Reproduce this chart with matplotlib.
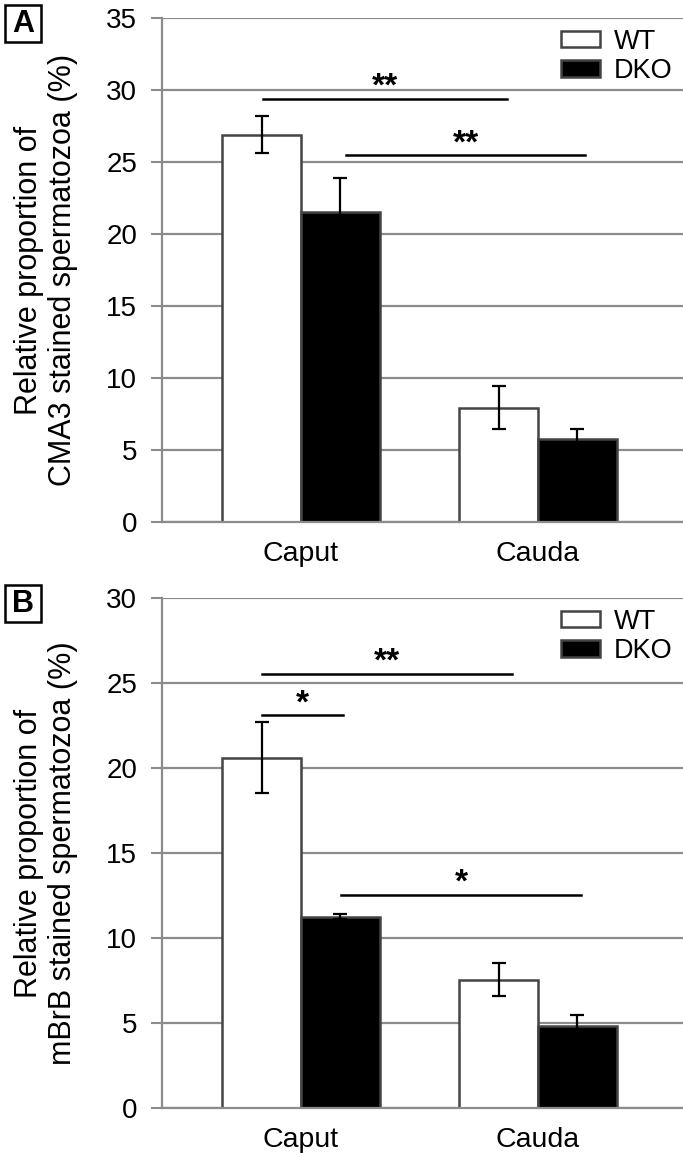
import numpy as np
import matplotlib.pyplot as plt
from matplotlib.patches import Rectangle

plt.rcParams['font.family'] = ['Liberation Sans', 'DejaVu Sans']

categories = ['Caput', 'Cauda']
groups = ['WT', 'DKO']

# panel A: CMA3
cma3_wt = [26.9, 7.95]
cma3_wt_err = [1.3, 1.5]
cma3_dko = [21.5, 5.75]
cma3_dko_err = [2.4, 0.7]
cma3_sig = [(-0.16, 0.87, 29.4, '**'), (0.19, 1.20, 25.5, '**')]

# panel B: mBrB
mbrb_wt = [20.6, 7.55]
mbrb_wt_err = [2.1, 0.95]
mbrb_dko = [11.25, 4.8]
mbrb_dko_err = [0.15, 0.7]
mbrb_sig = [(-0.165, 0.89, 25.55, '**'), (-0.165, 0.177, 23.1, '*'), (0.17, 1.18, 12.55, '*')]

grid_c = '#8c8c8c'
edge_c = '#444444'
fs = 20

fig = plt.figure(figsize=(6.83, 11.57), dpi=100)


def panel(ax, wt, wt_err, dko, dko_err, sig, ymax, ylabel):
    x = np.arange(len(categories))
    w = 0.333
    ax.set_axisbelow(True)
    ax.yaxis.grid(True, color=grid_c, lw=1.6)
    ax.bar(x - w / 2, wt, w, color='white', edgecolor=edge_c, lw=1.8, label=groups[0], zorder=2)
    ax.bar(x + w / 2, dko, w, color='black', edgecolor=edge_c, lw=1.8, label=groups[1], zorder=2)
    ax.errorbar(x - w / 2, wt, yerr=wt_err, fmt='none', ecolor='black', elinewidth=1.6,
                capsize=5, capthick=1.6, zorder=3)
    ax.errorbar(x + w / 2, dko, yerr=dko_err, fmt='none', ecolor='black', elinewidth=1.6,
                capsize=5, capthick=1.6, zorder=3)
    for x0, x1, y, s in sig:
        ax.plot([x0, x1], [y, y], color='black', lw=1.8, zorder=3)
        ax.annotate(s, ((x0 + x1) / 2, y), xytext=(0, 2), textcoords='offset points',
                    ha='center', va='baseline', fontsize=24, fontweight='bold')
    ax.set_xlim(-0.5865, 1.612)
    ax.set_ylim(0, ymax)
    ax.set_yticks(np.arange(0, ymax + 1, 5))
    ax.set_xticks(x)
    ax.set_xticklabels(categories)
    ax.tick_params(axis='y', labelsize=fs, color=grid_c, length=8, width=1.5, pad=10)
    ax.tick_params(axis='x', labelsize=20.5, length=0, pad=14)
    for sp in ['top', 'right']:
        ax.spines[sp].set_visible(False)
    for sp in ['left', 'bottom']:
        ax.spines[sp].set_color(grid_c)
        ax.spines[sp].set_linewidth(1.6)
    ax.set_ylabel(ylabel, fontsize=22, linespacing=1.18, va='center')
    ax.yaxis.set_label_coords(-0.222, 0.5)
    ax.legend(loc='upper right', bbox_to_anchor=(1.0, 1.0), frameon=False, fontsize=19.5,
              handlelength=1.45, handleheight=0.55, handletextpad=0.5, labelspacing=0.12,
              borderaxespad=0.0)


def letter_box(letter, top_px):
    fw, fh = 683, 1157
    x0, size_w, size_h = 5, 36, 37
    fig.patches.append(Rectangle((x0 / fw, 1 - (top_px + size_h) / fh), size_w / fw, size_h / fh,
                                 transform=fig.transFigure, fc='white', ec='black', lw=1.8))
    fig.text((x0 + size_w / 2) / fw, 1 - (top_px + size_h / 2) / fh, letter, fontsize=22,
             fontweight='bold', ha='center', va='center')


ax1 = fig.add_axes([0.2372, 0.5488, 0.7628, 0.4356])
panel(ax1, cma3_wt, cma3_wt_err, cma3_dko, cma3_dko_err, cma3_sig, 35,
      'Relative proportion of\nCMA3 stained spermatozoa (%)')

ax2 = fig.add_axes([0.2372, 0.04235, 0.7628, 0.4408])
panel(ax2, mbrb_wt, mbrb_wt_err, mbrb_dko, mbrb_dko_err, mbrb_sig, 30,
      'Relative proportion of\nmBrB stained spermatozoa (%)')

letter_box('A', 5)
letter_box('B', 585)

fig.savefig('out.png', dpi=100)
